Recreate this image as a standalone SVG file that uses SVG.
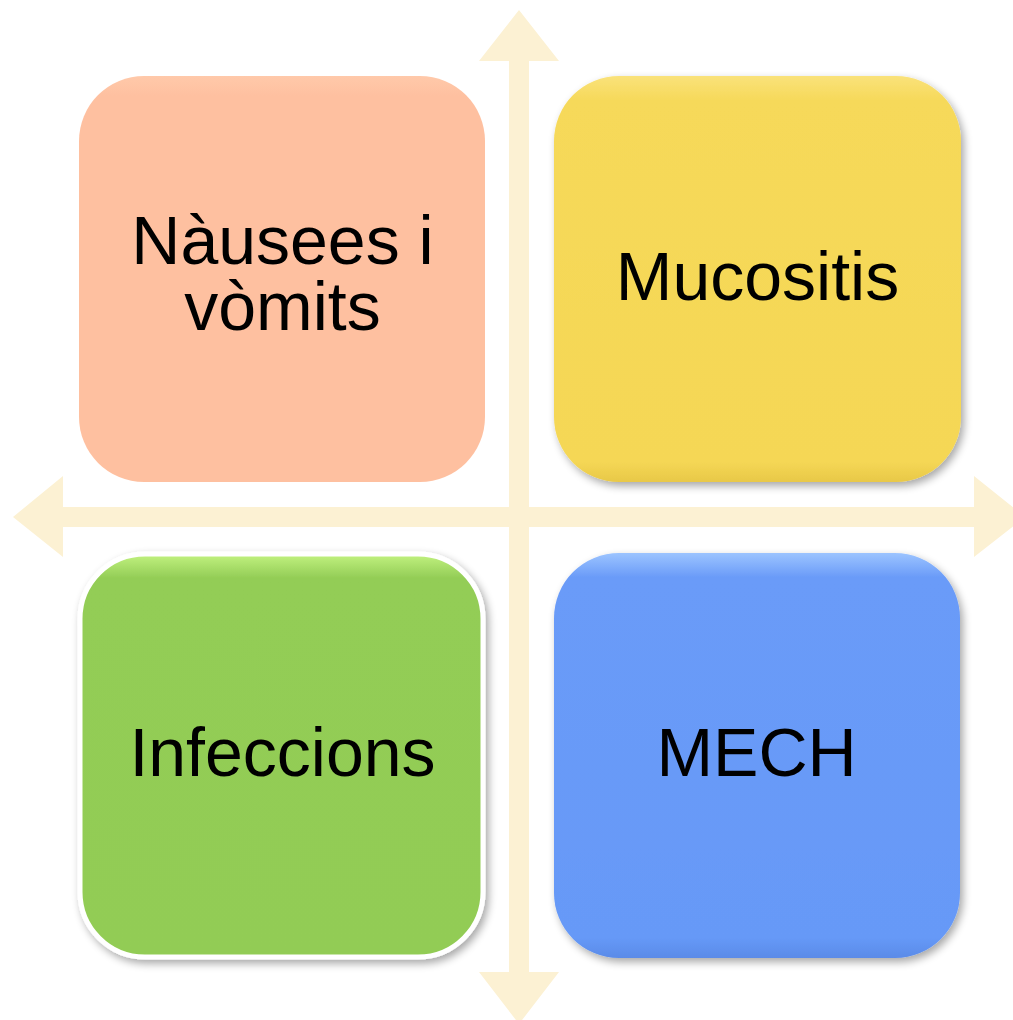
<svg xmlns="http://www.w3.org/2000/svg" width="1013" height="1020" viewBox="0 0 1013 1020">
  <style>
    .lbl { font-family: "Liberation Sans", Arial, sans-serif; font-size: 68px; fill: #000; text-anchor: middle; }
    .axis { fill: #FCF1D3; }
  </style>
  <defs>
    <filter id="shadow" x="-10%" y="-10%" width="125%" height="125%">
      <feGaussianBlur in="SourceAlpha" stdDeviation="4"/>
      <feOffset dx="3" dy="4" result="b"/>
      <feComponentTransfer><feFuncA type="linear" slope="0.35"/></feComponentTransfer>
      <feMerge><feMergeNode/><feMergeNode in="SourceGraphic"/></feMerge>
    </filter>
    <linearGradient id="gY" x1="0" y1="0" x2="0" y2="1">
      <stop offset="0" stop-color="#FAE27A"/>
      <stop offset="0.06" stop-color="#F6D95A"/>
      <stop offset="0.95" stop-color="#F5D755"/>
      <stop offset="1" stop-color="#E8C848"/>
    </linearGradient>
    <linearGradient id="gB" x1="0" y1="0" x2="0" y2="1">
      <stop offset="0" stop-color="#9CC4FF"/>
      <stop offset="0.06" stop-color="#6A9BF8"/>
      <stop offset="0.95" stop-color="#6699F7"/>
      <stop offset="1" stop-color="#5A8BE8"/>
    </linearGradient>
    <linearGradient id="gG" x1="0" y1="0" x2="0" y2="1">
      <stop offset="0" stop-color="#C2F280"/>
      <stop offset="0.06" stop-color="#93CD56"/>
      <stop offset="1" stop-color="#92CC54"/>
    </linearGradient>
    <linearGradient id="gP" x1="0" y1="0" x2="0" y2="1">
      <stop offset="0" stop-color="#FFC9AA"/>
      <stop offset="0.05" stop-color="#FEC0A0"/>
      <stop offset="1" stop-color="#FEC0A0"/>
    </linearGradient>
  </defs>

  <g id="connectors">
    <polygon class="axis" points="519,10 559,61 529,61 529,507 974,507 974,476 1025,517 974,557 974,527 529,527 529,972 559,972 519,1024 479,972 509,972 509,527 63,527 63,557 13,517 63,476 63,507 509,507 509,61 479,61"/>
  </g>

  <g id="node-nausees">
    <rect x="79" y="76" width="406" height="406" rx="65" ry="65" fill="url(#gP)"/>
    <text class="lbl"><tspan x="282.5" y="264">Nàusees i</tspan><tspan x="282.5" y="330">vòmits</tspan></text>
  </g>

  <g id="node-mucositis">
    <rect x="554" y="76" width="407" height="406" rx="65" ry="65" fill="url(#gY)" filter="url(#shadow)"/>
    <text class="lbl" x="757.5" y="300">Mucositis</text>
  </g>

  <g id="node-infeccions">
    <rect x="80" y="554" width="403" height="403" rx="65" ry="65" fill="url(#gG)" stroke="#FFFFFF" stroke-width="5" filter="url(#shadow)"/>
    <text class="lbl" x="282.5" y="776">Infeccions</text>
  </g>

  <g id="node-mech">
    <rect x="554" y="553" width="406" height="405" rx="65" ry="65" fill="url(#gB)" filter="url(#shadow)"/>
    <text class="lbl" x="756.5" y="776">MECH</text>
  </g>
</svg>
